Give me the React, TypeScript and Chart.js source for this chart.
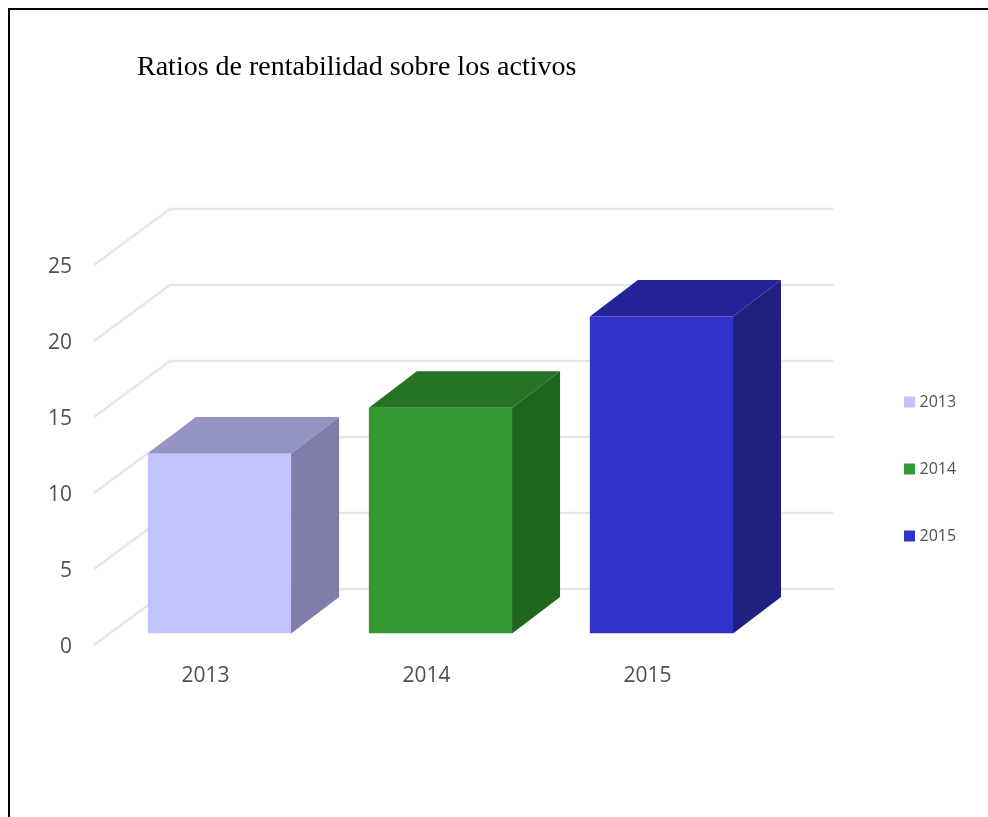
import { useEffect, useRef } from "react";
import { Chart, registerables } from "chart.js";

Chart.register(...registerables);

const titleText = "Ratios de rentabilidad sobre los activos";
const years = ["2013", "2014", "2015"];
const returnOnAssets = [11.85, 14.85, 20.85];
const yTicks = [0, 5, 10, 15, 20, 25];

const frontColors = ["#C2C2FF", "#339933", "#3333CC"];
const topColors = ["#9494C2", "#267326", "#24249A"];
const sideColors = ["#7E7EA8", "#1F661F", "#1F1F80"];

const labelColor = "#505050";
const gridColor = "#E6E6E6";
const labelFamily = "'Open Sans', sans-serif";

// Depth of each extruded bar, and where the wall grid sits relative to the value scale.
const barDepthX = 48;
const barDepthY = 36.5;

const perspective = {
  id: "perspective",
  afterLayout(chart: any) {
    chart.titleBlock.left = 127;
    chart.legend.left = 846.5;
    chart.legend.right = 978;
    chart.legend.top = 333;
    chart.legend.bottom = 807;
  },
  beforeDatasetsDraw(chart: any) {
    const { ctx, chartArea, scales } = chart;
    ctx.save();
    ctx.strokeStyle = gridColor;
    ctx.lineWidth = 2.5;
    ctx.lineJoin = "round";
    yTicks.forEach((value) => {
      const y = scales.y.getPixelForValue(value);
      ctx.beginPath();
      ctx.moveTo(chartArea.left - 15, y + 11.5);
      ctx.lineTo(chartArea.left + 61, y - 44.5);
      ctx.lineTo(chartArea.right + 61.5, y - 44.5);
      ctx.stroke();
    });
    ctx.restore();
  },
  afterDatasetsDraw(chart: any) {
    const { ctx } = chart;
    ctx.save();
    chart.getDatasetMeta(0).data.forEach((bar: any, i: number) => {
      const left = bar.x - bar.width / 2;
      const right = bar.x + bar.width / 2;
      ctx.fillStyle = topColors[i];
      ctx.beginPath();
      ctx.moveTo(left, bar.y);
      ctx.lineTo(left + barDepthX, bar.y - barDepthY);
      ctx.lineTo(right + barDepthX, bar.y - barDepthY);
      ctx.lineTo(right, bar.y);
      ctx.closePath();
      ctx.fill();
      ctx.fillStyle = sideColors[i];
      ctx.beginPath();
      ctx.moveTo(right, bar.y);
      ctx.lineTo(right + barDepthX, bar.y - barDepthY);
      ctx.lineTo(right + barDepthX, bar.base - barDepthY);
      ctx.lineTo(right, bar.base);
      ctx.closePath();
      ctx.fill();
    });
    ctx.restore();
  },
};

export default function App() {
  const canvasRef = useRef<HTMLCanvasElement>(null);

  useEffect(() => {
    const chart = new Chart(canvasRef.current!, {
      type: "bar",
      data: {
        labels: years,
        datasets: [
          {
            label: titleText,
            data: returnOnAssets,
            backgroundColor: frontColors,
            borderWidth: 0,
            barPercentage: 0.648,
            categoryPercentage: 1,
          },
        ],
      },
      options: {
        responsive: false,
        animation: false,
        layout: { padding: { right: 106.5 } },
        plugins: {
          tooltip: { enabled: false },
          title: {
            display: true,
            text: titleText,
            align: "start",
            color: "#000000",
            font: { family: "'Liberation Serif', serif", size: 28, weight: "normal" },
            padding: { top: 41, bottom: 168.9 },
          },
          legend: {
            position: "right",
            align: "start",
            labels: {
              boxWidth: 4,
              boxHeight: 4,
              padding: 51,
              color: labelColor,
              font: { family: labelFamily, size: 16 },
              generateLabels: () =>
                years.map((year, i) => ({
                  text: year,
                  fillStyle: frontColors[i],
                  strokeStyle: frontColors[i],
                  lineWidth: 7,
                  fontColor: labelColor,
                  hidden: false,
                  index: i,
                })),
            },
          },
        },
        scales: {
          x: {
            afterFit: (scale: any) => {
              scale.height = 183.5;
            },
            grid: { display: false, drawTicks: false },
            border: { display: false },
            ticks: {
              color: labelColor,
              font: { family: labelFamily, size: 21 },
              padding: 30,
              labelOffset: -14,
              maxRotation: 0,
            },
          },
          y: {
            min: 0,
            max: 25,
            afterFit: (scale: any) => {
              scale.width = 99;
            },
            afterBuildTicks: (scale: any) => {
              scale.ticks = yTicks.map((value) => ({ value }));
            },
            grid: { display: false, drawTicks: false },
            border: { display: false },
            ticks: {
              color: labelColor,
              font: { family: labelFamily, size: 21 },
              padding: 37,
              labelOffset: 14,
            },
          },
        },
      } as any,
      plugins: [perspective],
    });
    return () => chart.destroy();
  }, []);

  return (
    <div
      style={{
        position: "fixed",
        left: 8,
        top: 8,
        width: 978,
        height: 807,
        borderLeft: "2px solid #000",
        borderTop: "2px solid #000",
        background: "#fff",
      }}
    >
      <canvas ref={canvasRef} width={978} height={807} style={{ display: "block" }} />
    </div>
  );
}
